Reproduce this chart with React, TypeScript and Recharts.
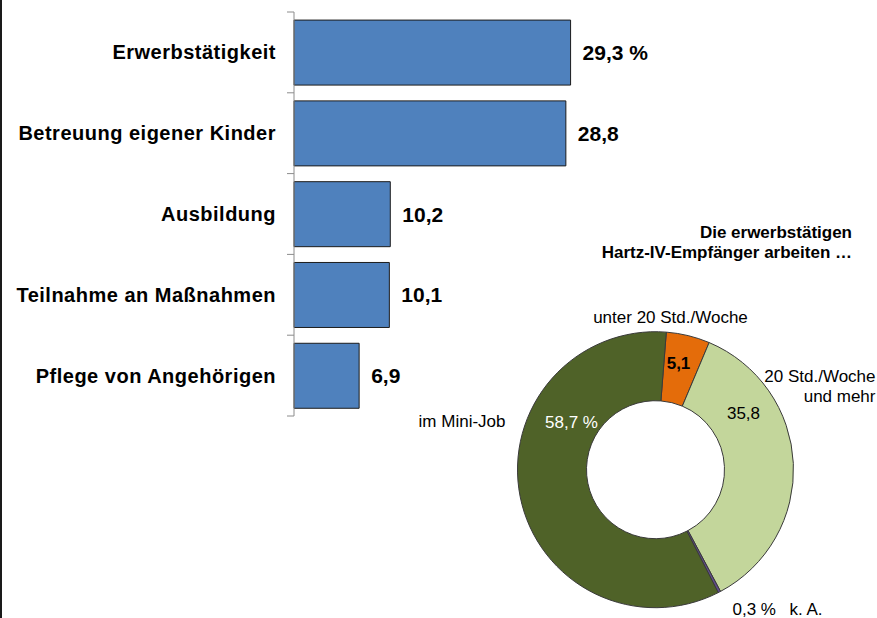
import React from 'react'
import { BarChart, Bar, XAxis, YAxis, LabelList, PieChart, Pie, Cell } from 'recharts'

// Gründe, warum Hartz-IV-Empfänger dem Arbeitsmarkt nicht voll zur Verfügung stehen
const categories = ['Erwerbstätigkeit', 'Betreuung eigener Kinder', 'Ausbildung', 'Teilnahme an Maßnahmen', 'Pflege von Angehörigen']
const shares = [29.3, 28.8, 10.2, 10.1, 6.9]

// Die erwerbstätigen Hartz-IV-Empfänger arbeiten …
const workNames = ['unter 20 Std./Woche', '20 Std./Woche und mehr', 'k. A.', 'im Mini-Job']
const workShares = [5.1, 35.8, 0.3, 58.7]
const workColors = ['#E46C0A', '#C3D69B', '#5F4B8B', '#4F6228']

const W = 877
const H = 618
const AXIS_X = 294
const PLOT_TOP = 12
const PLOT_BOTTOM = 416
const BAND = (PLOT_BOTTOM - PLOT_TOP) / categories.length
const FONT = '"Liberation Sans", Arial, sans-serif'
const PIE_MARGIN = 5

const barData = categories.map((name, i) => ({ name, value: shares[i] }))
const pieData = workNames.map((name, i) => ({ name, value: workShares[i] }))

const fmt = (v: number) => v.toFixed(1).replace('.', ',')

// label placement around the donut, relative to its centre
const valuePos = [[23, -106], [88, -56], [77, 140], [-84, -47]]
const namePos = [[15, -152], [220, -94], [134, 140], [-150, -48]]

function CategoryTick({ y, payload, index }: any) {
  const top = y - BAND / 2
  return (
    <g>
      <line x1={AXIS_X - 7} x2={AXIS_X} y1={top} y2={top} stroke="#8c8c8c" />
      {index === categories.length - 1 && (
        <line x1={AXIS_X - 7} x2={AXIS_X} y1={top + BAND} y2={top + BAND} stroke="#8c8c8c" />
      )}
      <text x={AXIS_X - 18} y={y} textAnchor="end" dominantBaseline="central"
        fontFamily={FONT} fontSize={20} fontWeight="bold" letterSpacing={0.5} fill="#000">
        {payload.value}
      </text>
    </g>
  )
}

function PieLabel({ cx, cy, index, value }: any) {
  const [vx, vy] = valuePos[index]
  const [nx, ny] = namePos[index]
  const suffix = index === 2 || index === 3 ? ' %' : ''
  const common = { fontFamily: FONT, fontSize: 17, dominantBaseline: 'central' as const }
  let name: React.ReactNode
  if (index === 1) {
    const [a, b] = ['20 Std./Woche', 'und mehr']
    name = (
      <text {...common} x={cx + nx} y={cy + ny} textAnchor="end" fill="#000">
        <tspan x={cx + nx} dy={0}>{a}</tspan>
        <tspan x={cx + nx} dy={20}>{b}</tspan>
      </text>
    )
  } else {
    const anchor = index === 0 ? 'middle' : index === 2 ? 'start' : 'end'
    name = <text {...common} x={cx + nx} y={cy + ny} textAnchor={anchor} fill="#000">{workNames[index]}</text>
  }
  return (
    <g>
      <text {...common} x={cx + vx} y={cy + vy}
        textAnchor={index === 2 ? 'start' : 'middle'}
        fontWeight={index === 0 ? 'bold' : 'normal'}
        fill={index === 3 ? '#fff' : '#000'}>
        {fmt(value) + suffix}
      </text>
      {name}
    </g>
  )
}

export default function App() {
  return (
    <div style={{ position: 'absolute', left: 0, top: 0, width: W, height: H, background: '#fff', overflow: 'hidden' }}>
      <div style={{ position: 'absolute', left: 0, top: 0, width: 2, height: H, background: '#1a1a1a' }} />
      <div style={{ position: 'absolute', left: 0, top: 0 }}>
        <BarChart width={W} height={H} data={barData} layout="vertical"
          margin={{ top: PLOT_TOP, bottom: H - PLOT_BOTTOM, left: 0, right: 111 }}
          barCategoryGap="10%">
          <XAxis type="number" domain={[0, 50]} hide />
          <YAxis type="category" dataKey="name" width={AXIS_X} stroke="#8c8c8c"
            tickLine={false} tick={<CategoryTick />} interval={0} />
          <Bar dataKey="value" fill="#4F81BD" stroke="#1c1c1c" strokeWidth={1} isAnimationActive={false}>
            <LabelList dataKey="value" position="right" offset={12}
              formatter={(v: any) => fmt(Number(v)) + (Number(v) === shares[0] ? ' %' : '')}
              fontFamily={FONT} fontSize={21} fontWeight="bold" fill="#000" />
          </Bar>
        </BarChart>
      </div>
      <div style={{ position: 'absolute', left: 0, top: 0 }}>
        <PieChart width={W} height={H} margin={{ top: PIE_MARGIN, right: PIE_MARGIN, bottom: PIE_MARGIN, left: PIE_MARGIN }}>
          <Pie data={pieData} dataKey="value" nameKey="name" cx={655.5 - PIE_MARGIN} cy={469.7 - PIE_MARGIN}
            innerRadius={69} outerRadius={138} startAngle={85.5} endAngle={-274.5}
            stroke="#3a3a3a" strokeWidth={1} label={<PieLabel />} labelLine={false}
            isAnimationActive={false}>
            {pieData.map((d, i) => <Cell key={d.name} fill={workColors[i]} />)}
          </Pie>
        </PieChart>
      </div>
      <div style={{ position: 'absolute', right: 25, top: 223, textAlign: 'right', fontFamily: FONT,
        fontSize: 17, fontWeight: 'bold', lineHeight: '20px', color: '#000' }}>
        Die erwerbstätigen<br />Hartz-IV-Empfänger arbeiten …
      </div>
    </div>
  )
}
